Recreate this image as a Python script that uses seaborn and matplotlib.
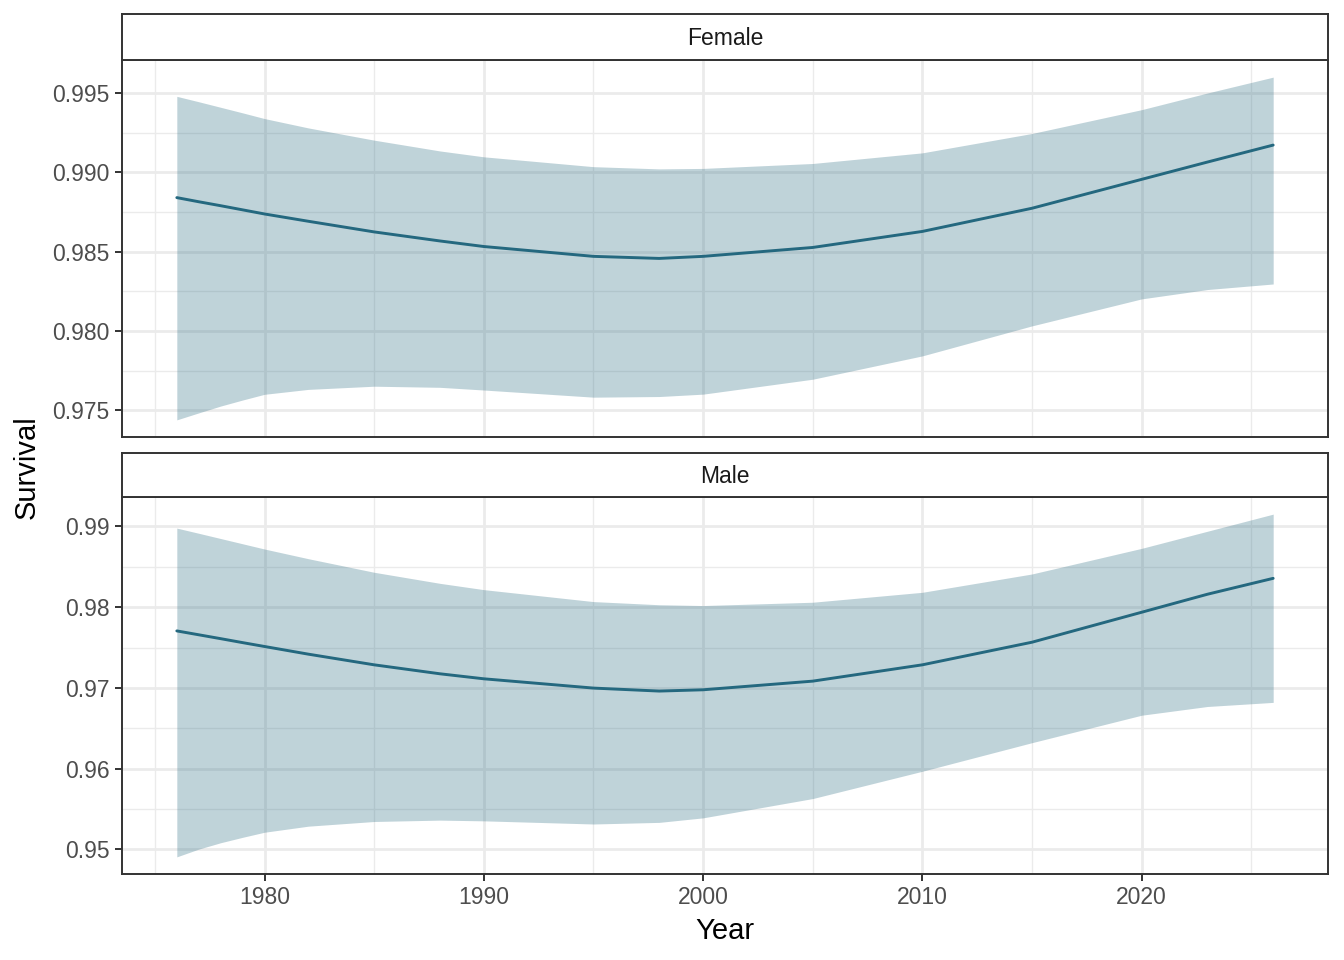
import numpy as np
import pandas as pd
import seaborn as sns
import matplotlib.pyplot as plt
from matplotlib.ticker import MultipleLocator, FormatStrFormatter

# Values
years = [1976, 1977, 1978, 1979, 1980, 1982, 1985, 1988, 1990, 1995, 1998, 2000,
         2005, 2010, 2015, 2020, 2023, 2026]

female_fit = [0.98841, 0.98815, 0.98790, 0.98764, 0.98738, 0.98692, 0.98625, 0.98568,
              0.98533, 0.98471, 0.98458, 0.98471, 0.98527, 0.98628, 0.98774, 0.98956,
              0.99065, 0.99172]
female_upper = [0.99479, 0.99445, 0.99410, 0.99375, 0.99339, 0.99280, 0.99203, 0.99135,
                0.99098, 0.99036, 0.99022, 0.99025, 0.99056, 0.99123, 0.99245, 0.99395,
                0.99500, 0.99600]
female_lower = [0.97441, 0.97485, 0.97528, 0.97566, 0.97602, 0.97633, 0.97653, 0.97646,
                0.97629, 0.97584, 0.97588, 0.97603, 0.97697, 0.97844, 0.98033, 0.98203,
                0.98262, 0.98297]

male_fit = [0.97706, 0.97658, 0.97610, 0.97561, 0.97513, 0.97418, 0.97286, 0.97175,
            0.97113, 0.96998, 0.96961, 0.96977, 0.97084, 0.97286, 0.97566, 0.97937,
            0.98160, 0.98357]
male_upper = [0.98979, 0.98915, 0.98850, 0.98785, 0.98720, 0.98600, 0.98432, 0.98295,
              0.98217, 0.98069, 0.98030, 0.98020, 0.98061, 0.98184, 0.98411, 0.98728,
              0.98940, 0.99152]
male_lower = [0.94908, 0.95004, 0.95083, 0.95150, 0.95213, 0.95288, 0.95346, 0.95363,
              0.95354, 0.95315, 0.95335, 0.95391, 0.95630, 0.95968, 0.96322, 0.96662,
              0.96770, 0.96821]

panels = ['Female', 'Male']

df = pd.concat([
    pd.DataFrame({'Year': years, 'Survival': female_fit, 'lo': female_lower,
                  'hi': female_upper, 'Sex': 'Female'}),
    pd.DataFrame({'Year': years, 'Survival': male_fit, 'lo': male_lower,
                  'hi': male_upper, 'Sex': 'Male'}),
])

sns.set_theme(style='white')
plt.rcParams['font.family'] = ['Liberation Sans', 'DejaVu Sans']

line_col = '#24687F'
grid_col = '#EBEBEB'
border_col = '#333333'

fig = plt.figure(figsize=(13.44, 9.6), dpi=100)

L, W = 122 / 1344, 1206 / 1344
# (panel_top_px, panel_bottom_px, strip_top_px)
layout = {'Female': (60, 437, 14), 'Male': (497, 874, 453)}
yticks = {'Female': (0.005, '%.3f'), 'Male': (0.01, '%.2f')}

for name in panels:
    top, bot, stop = layout[name]
    ax = fig.add_axes([L, 1 - bot / 960, W, (bot - top) / 960])
    sax = fig.add_axes([L, 1 - top / 960, W, (top - stop) / 960])

    sub = df[df['Sex'] == name]
    ax.fill_between(sub['Year'], sub['lo'], sub['hi'], color=line_col, alpha=0.29,
                    linewidth=0, zorder=2)
    sns.lineplot(data=sub, x='Year', y='Survival', ax=ax, color=line_col,
                 linewidth=2.1, zorder=3)

    step, fmt = yticks[name]
    rng = sub['hi'].max() - sub['lo'].min()
    ax.set_ylim(sub['lo'].min() - 0.05 * rng, sub['hi'].max() + 0.05 * rng)
    ax.set_xlim(1976 - 2.5, 2028.5)
    ax.yaxis.set_major_locator(MultipleLocator(step))
    ax.yaxis.set_minor_locator(MultipleLocator(step / 2))
    ax.yaxis.set_major_formatter(FormatStrFormatter(fmt))
    ax.xaxis.set_major_locator(MultipleLocator(10))
    ax.xaxis.set_minor_locator(MultipleLocator(5))

    ax.grid(which='major', color=grid_col, linewidth=2.0, zorder=0)
    ax.grid(which='minor', color=grid_col, linewidth=1.0, zorder=0)
    ax.set_axisbelow(True)
    for s in ax.spines.values():
        s.set_color(border_col)
        s.set_linewidth(1.4)
    ax.tick_params(axis='both', which='major', length=5, width=1.4, color=border_col,
                   labelsize=16.5, labelcolor='#4D4D4D', pad=4,
                   left=True, bottom=(name == 'Male'))
    ax.tick_params(which='minor', length=0)
    ax.set_xlabel('')
    ax.set_ylabel('')
    if name == 'Female':
        ax.tick_params(labelbottom=False)

    # facet strip
    sax.set_xticks([])
    sax.set_yticks([])
    sax.set_facecolor('white')
    for s in sax.spines.values():
        s.set_color(border_col)
        s.set_linewidth(1.4)
    sax.text(0.5, 0.47, name, ha='center', va='center', fontsize=16.5,
             color='#1A1A1A', transform=sax.transAxes)

fig.text(L + W / 2, 1 - 931 / 960, 'Year', ha='center', va='center', fontsize=21,
         color='black')
fig.text(27 / 1344, 1 - 467 / 960, 'Survival', ha='center', va='center', fontsize=21,
         rotation=90, color='black')

fig.savefig('out.png', dpi=100, facecolor='white')
plt.close()
